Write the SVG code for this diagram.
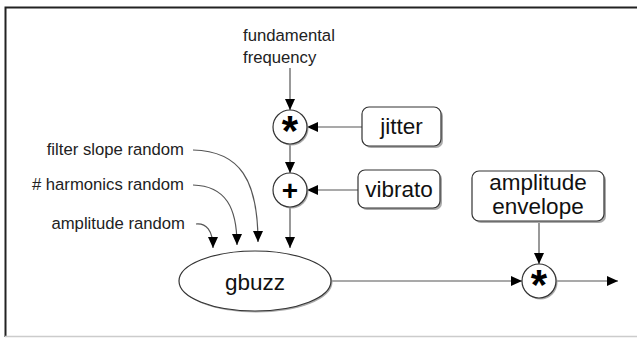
<svg xmlns="http://www.w3.org/2000/svg" width="637" height="338" viewBox="0 0 637 338">
  <style>
    .frame { stroke: #222; stroke-width: 2; fill: none; }
    .base { stroke: #ccc; stroke-width: 1.5; fill: none; }
    .wire { stroke: #555; stroke-width: 1.2; fill: none; }
    .node { fill: #fff; stroke: #333; stroke-width: 1.2; }
    .shadow { fill: #aaa; stroke: none; }
    .label { font-family: "Liberation Sans", Arial, sans-serif; font-size: 16.7px; fill: #222; }
    .big { font-family: "Liberation Sans", Arial, sans-serif; font-size: 22.5px; fill: #111; text-anchor: middle; }
    .op { font-family: "Liberation Sans", Arial, sans-serif; font-weight: bold; fill: #000; text-anchor: middle; }
  </style>
  <defs>
    <marker id="arrow" viewBox="0 0 11 10" refX="11" refY="5" markerWidth="11" markerHeight="10" markerUnits="userSpaceOnUse" orient="auto">
      <path d="M0,0 L11,5 L0,10 z" fill="#000"/>
    </marker>
  </defs>

  <rect width="637" height="338" fill="#fff"/>
  <!-- frame -->
  <path class="frame" d="M5.5,337 V7.5 H637"/>
  <path class="base" d="M5,336.5 H637"/>

  <!-- connectors -->
  <g id="connectors">
    <path class="wire" d="M290,68 V110" marker-end="url(#arrow)"/>
    <path class="wire" d="M362,127 H307" marker-end="url(#arrow)"/>
    <path class="wire" d="M290,144 V173" marker-end="url(#arrow)"/>
    <path class="wire" d="M358,190 H307" marker-end="url(#arrow)"/>
    <path class="wire" d="M290,207 V248" marker-end="url(#arrow)"/>
    <path class="wire" d="M193,150 C240,151 258,180 258,242" marker-end="url(#arrow)"/>
    <path class="wire" d="M193,185 C226,186 237,208 237,245" marker-end="url(#arrow)"/>
    <path class="wire" d="M196,224 C206,223 213,230 213,248" marker-end="url(#arrow)"/>
    <path class="wire" d="M331,281 H522" marker-end="url(#arrow)"/>
    <path class="wire" d="M539,222 V264" marker-end="url(#arrow)"/>
    <path class="wire" d="M556,281 H618" marker-end="url(#arrow)"/>
  </g>

  <!-- input labels -->
  <g id="fundamental">
    <text class="label" x="243" y="41">fundamental</text>
    <text class="label" x="243" y="63">frequency</text>
  </g>
  <g id="filter-slope">
    <text class="label" x="184" y="155" text-anchor="end">filter slope random</text>
  </g>
  <g id="harmonics">
    <text class="label" x="184" y="190" text-anchor="end"># harmonics random</text>
  </g>
  <g id="amp-random">
    <text class="label" x="185" y="229" text-anchor="end">amplitude random</text>
  </g>

  <!-- operators -->
  <g id="mul-freq">
    <circle class="shadow" cx="291.5" cy="128.5" r="17"/>
    <circle class="node" cx="290" cy="127" r="17"/>
    <text class="op" x="290" y="145" font-size="42">*</text>
  </g>
  <g id="add-vibrato">
    <circle class="shadow" cx="291.5" cy="191.5" r="17"/>
    <circle class="node" cx="290" cy="190" r="17"/>
    <text class="op" x="290" y="199.5" font-size="28">+</text>
  </g>
  <g id="mul-amp">
    <circle class="shadow" cx="540.5" cy="282.5" r="17"/>
    <circle class="node" cx="539" cy="281" r="17"/>
    <text class="op" x="539" y="299" font-size="42">*</text>
  </g>

  <!-- modulators -->
  <g id="jitter">
    <rect class="shadow" x="364" y="109" width="79" height="39" rx="7"/>
    <rect class="node" x="362" y="107" width="79" height="39" rx="7"/>
    <text class="big" x="401.5" y="134">jitter</text>
  </g>
  <g id="vibrato">
    <rect class="shadow" x="360" y="172" width="82" height="38" rx="7"/>
    <rect class="node" x="358" y="170" width="82" height="38" rx="7"/>
    <text class="big" x="399" y="197">vibrato</text>
  </g>
  <g id="amp-envelope">
    <rect class="shadow" x="474" y="173" width="132" height="50" rx="7"/>
    <rect class="node" x="472" y="171" width="132" height="50" rx="7"/>
    <text class="big" x="538" y="190">amplitude</text>
    <text class="big" x="538" y="214">envelope</text>
  </g>

  <!-- oscillator -->
  <g id="gbuzz">
    <ellipse class="shadow" cx="256.5" cy="282.5" rx="76" ry="30"/>
    <ellipse class="node" cx="255" cy="281" rx="76" ry="30"/>
    <text class="big" x="255" y="290">gbuzz</text>
  </g>
</svg>
